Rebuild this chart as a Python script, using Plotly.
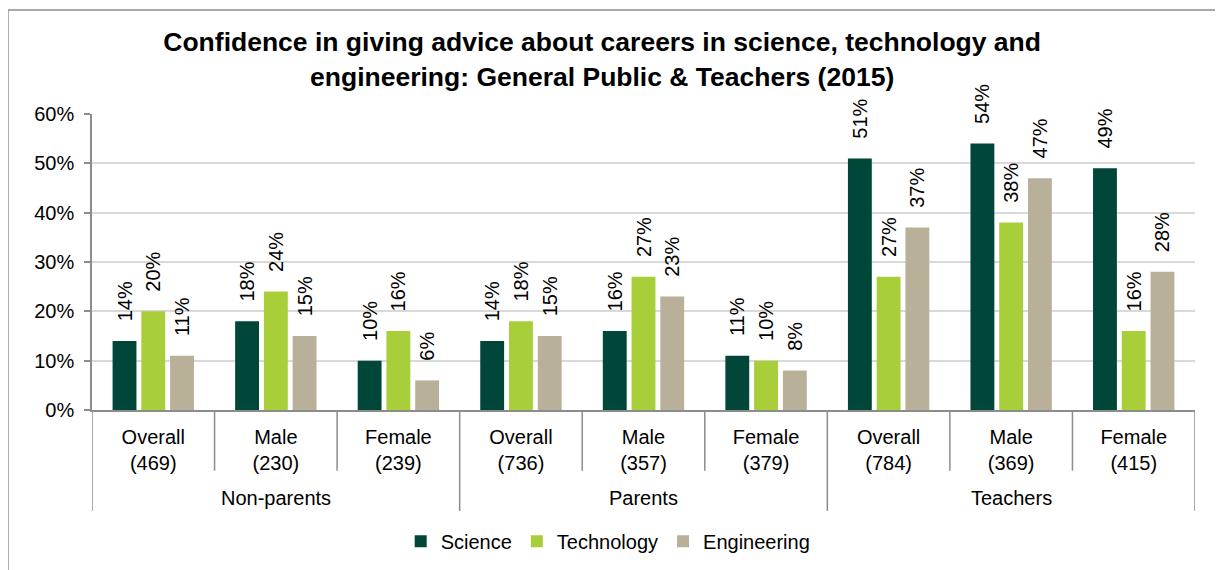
import plotly.graph_objects as go

groups = ["Non-parents", "Parents", "Teachers"]
subgroups = ["Overall<br>(469)", "Male<br>(230)", "Female<br>(239)",
             "Overall<br>(736)", "Male<br>(357)", "Female<br>(379)",
             "Overall<br>(784)", "Male<br>(369)", "Female<br>(415)"]
science = [14, 18, 10, 14, 16, 11, 51, 54, 49]
technology = [20, 24, 16, 18, 27, 10, 27, 38, 16]
engineering = [11, 15, 6, 15, 23, 8, 37, 47, 28]

series = [("Science", science, "#00473A"),
          ("Technology", technology, "#A8CE39"),
          ("Engineering", engineering, "#B8B098")]

FONT = "Liberation Sans, Arial, sans-serif"
xpos = list(range(len(subgroups)))

fig = go.Figure()
for name, vals, col in series:
    fig.add_trace(go.Bar(
        x=xpos, y=vals, name=name,
        marker=dict(color=col, line=dict(width=0)),
        texttemplate="\u00a0\u00a0\u00a0%{y}",
        textposition="outside", textangle=-90,
        outsidetextfont=dict(family=FONT, size=20, color="#000000"),
        constraintext="none", cliponaxis=False,
        hoverinfo="skip",
    ))

shapes = []
# category dividers (group boundaries are longer)
for i in range(len(subgroups) + 1):
    b = i - 0.5
    is_group = (i % 3 == 0)
    shapes.append(dict(type="line", xref="x", yref="paper",
                       x0=b, x1=b, y0=0, y1=-0.341 if is_group else -0.205,
                       line=dict(color="#8C8C8C", width=1.5)))
# outer chart border
shapes.append(dict(type="rect", xref="paper", yref="paper",
                   x0=-0.0762, x1=1.0199, y0=-0.62, y1=1.351,
                   line=dict(color="#8C8C8C", width=1.5), fillcolor="rgba(0,0,0,0)",
                   layer="below"))

annotations = []
for gi, g in enumerate(groups):
    annotations.append(dict(text=g, xref="x", yref="paper", x=gi * 3 + 1, y=-0.297,
                            xanchor="center", yanchor="middle", showarrow=False,
                            font=dict(family=FONT, size=20, color="#000000")))

fig.update_layout(
    width=1215, height=562,
    margin=dict(l=84, r=28, t=106, b=160, autoexpand=False),
    paper_bgcolor="white", plot_bgcolor="white",
    font=dict(family=FONT, size=20, color="#000000"),
    title=dict(text="<b>Confidence in giving advice about careers in science, technology and<br>engineering: General Public & Teachers (2015)</b>",
               xref="container", yref="container", x=0.489, y=0.923,
               xanchor="center", yanchor="top",
               font=dict(family=FONT, size=26.5, color="#000000")),
    barmode="group", bargap=0.296, bargroupgap=0.17,
    xaxis=dict(range=[-0.5, 8.5], tickvals=xpos, ticktext=subgroups,
               showline=True, linecolor="#8C8C8C", linewidth=1.5,
               ticks="", showgrid=False, zeroline=False, automargin=False,
               ticklabelstandoff=8,
               tickfont=dict(family=FONT, size=20, color="#000000")),
    yaxis=dict(range=[0, 60], dtick=10, ticksuffix="%",
               showline=True, linecolor="#8C8C8C", linewidth=1.5,
               ticks="outside", ticklen=6, tickcolor="#8C8C8C", tickwidth=1.5,
               showgrid=True, gridcolor="#D9D9D9", gridwidth=1.5,
               zeroline=False, ticklabelstandoff=6, automargin=False,
               tickfont=dict(family=FONT, size=20, color="#000000")),
    legend=dict(orientation="h", xref="paper", yref="paper",
                x=0.468, y=-0.443, xanchor="center", yanchor="middle",
                font=dict(family=FONT, size=20, color="#000000"),
                itemwidth=30, traceorder="normal"),
    shapes=shapes, annotations=annotations,
)

fig.write_html("out.html")
